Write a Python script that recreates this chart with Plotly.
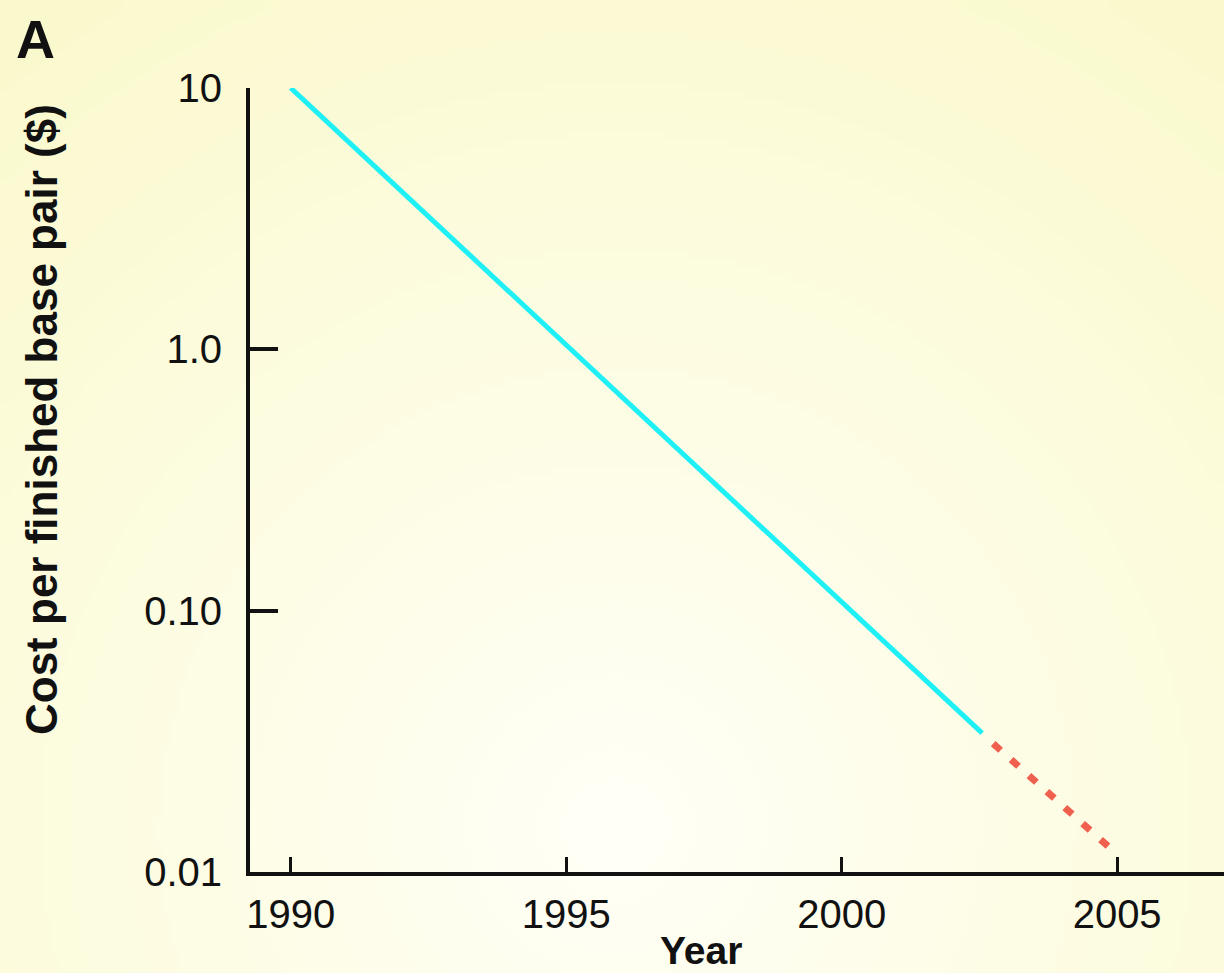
import base64
import struct
import zlib

import plotly.graph_objects as go

# ---- data ----
years_measured = [1990, 2002.55]
cost_measured = [10, 0.034]
years_projected = [2002.75, 2004.9]
cost_projected = [0.031, 0.0122]

x_tick_vals = [1990, 1995, 2000, 2005]
x_tick_text = ["1990", "1995", "2000", "2005"]
y_tick_vals = [10, 1, 0.1, 0.01]
y_tick_text = ["10", "1.0", "0.10", "0.01"]

# ---- layout geometry (pixels) ----
W, H = 1224, 973
L, R, T, B = 250, 0, 88, 101
PW, PH = W - L - R, H - T - B


def px_x(px):
    return (px - L) / PW


def px_y(py):
    return (H - B - py) / PH


FONT = "Liberation Sans, Arial, Helvetica, sans-serif"


# ---- decorative radial background (small PNG, stretched) ----
def radial_png(w, h, scale, cx, cy, rmax, c_in, c_out):
    rows = []
    for j in range(h):
        row = bytearray([0])
        for i in range(w):
            dx = (i + 0.5) * scale - cx
            dy = (j + 0.5) * scale - cy
            t = min(((dx * dx + dy * dy) ** 0.5) / rmax, 1.0)
            for k in range(3):
                row.append(int(round(c_in[k] + (c_out[k] - c_in[k]) * t)))
        rows.append(bytes(row))
    raw = b"".join(rows)

    def chunk(tag, data):
        c = struct.pack(">I", len(data)) + tag + data
        return c + struct.pack(">I", zlib.crc32(tag + data) & 0xFFFFFFFF)

    png = b"\x89PNG\r\n\x1a\n"
    png += chunk(b"IHDR", struct.pack(">IIBBBBB", w, h, 8, 2, 0, 0, 0))
    png += chunk(b"IDAT", zlib.compress(raw, 9))
    png += chunk(b"IEND", b"")
    return "data:image/png;base64," + base64.b64encode(png).decode()


SCALE = 8
bg_src = radial_png(W // SCALE + 1, H // SCALE + 1, SCALE, 620, 830, 1000,
                    (255, 255, 247), (250, 249, 205))

fig = go.Figure()
fig.add_trace(go.Scatter(
    x=years_measured, y=cost_measured, mode="lines",
    line=dict(color="#1EF0F6", width=5), hoverinfo="skip", showlegend=False))
fig.add_trace(go.Scatter(
    x=years_projected, y=cost_projected, mode="lines",
    line=dict(color="#F0604E", width=7, dash="10px,14px"), hoverinfo="skip",
    showlegend=False))

fig.update_layout(
    width=W, height=H,
    margin=dict(l=L, r=R, t=T, b=B),
    paper_bgcolor="#FAF9CD",
    plot_bgcolor="rgba(0,0,0,0)",
    images=[dict(
        source=bg_src, xref="paper", yref="paper",
        x=px_x(0), y=px_y(0), sizex=W / PW, sizey=H / PH,
        xanchor="left", yanchor="top", sizing="stretch", layer="below")],
    font=dict(family=FONT, color="#111111"),
    xaxis=dict(
        range=[1989.26, 2006.94], showgrid=False, zeroline=False,
        showline=True, linecolor="#111111", linewidth=4,
        ticks="inside", ticklen=15, tickwidth=3, tickcolor="#111111",
        tickvals=x_tick_vals, ticktext=x_tick_text,
        tickfont=dict(size=40, family=FONT, color="#111111"),
        ticklabelstandoff=4),
    yaxis=dict(
        type="log", range=[-2, 1], showgrid=False, zeroline=False,
        showline=True, linecolor="#111111", linewidth=4,
        ticks="inside", ticklen=28, tickwidth=4, tickcolor="#111111",
        tickvals=y_tick_vals, ticktext=y_tick_text,
        tickfont=dict(size=40, family=FONT, color="#111111"),
        ticklabelstandoff=16),
    annotations=[
        dict(text="<b>A</b>", xref="paper", yref="paper",
             x=px_x(35), y=px_y(39), xanchor="center", yanchor="middle",
             showarrow=False, font=dict(size=54, family=FONT, color="#111111")),
        dict(text="<b>Year</b>", xref="paper", yref="paper",
             x=px_x(701), y=px_y(950), xanchor="center", yanchor="middle",
             showarrow=False, font=dict(size=39, family=FONT, color="#111111")),
        dict(text="<b>Cost per finished base pair ($)</b>", xref="paper", yref="paper",
             x=px_x(41), y=px_y(420), xanchor="center", yanchor="middle",
             textangle=-90, showarrow=False,
             font=dict(size=44, family=FONT, color="#111111")),
    ],
)

fig.write_html("out.html", config={"displayModeBar": False})
